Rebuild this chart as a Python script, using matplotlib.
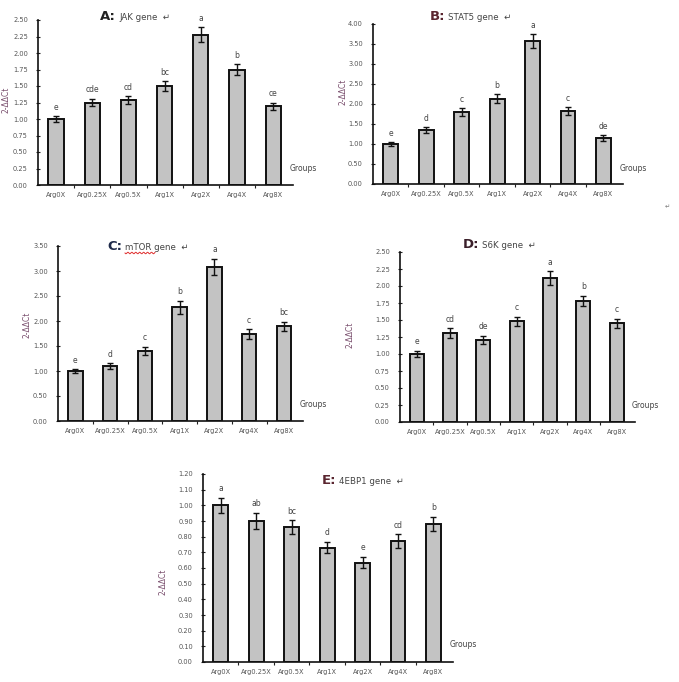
import matplotlib
matplotlib.use("Agg")
import matplotlib.pyplot as plt
import numpy as np

groups = ["Arg0X", "Arg0.25X", "Arg0.5X", "Arg1X", "Arg2X", "Arg4X", "Arg8X"]

jak_vals = [1.00, 1.25, 1.29, 1.50, 2.28, 1.75, 1.19]
jak_err = [0.05, 0.06, 0.06, 0.08, 0.11, 0.08, 0.06]
jak_letters = ["e", "cde", "cd", "bc", "a", "b", "ce"]

stat5_vals = [1.00, 1.35, 1.79, 2.13, 3.58, 1.83, 1.15]
stat5_err = [0.06, 0.08, 0.10, 0.11, 0.17, 0.10, 0.07]
stat5_letters = ["e", "d", "c", "b", "a", "c", "de"]

mtor_vals = [1.00, 1.10, 1.41, 2.28, 3.09, 1.74, 1.90]
mtor_err = [0.04, 0.06, 0.08, 0.13, 0.16, 0.10, 0.09]
mtor_letters = ["e", "d", "c", "b", "a", "c", "bc"]

s6k_vals = [1.00, 1.31, 1.21, 1.48, 2.12, 1.78, 1.45]
s6k_err = [0.05, 0.07, 0.06, 0.07, 0.10, 0.08, 0.07]
s6k_letters = ["e", "cd", "de", "c", "a", "b", "c"]

ebp1_vals = [1.00, 0.90, 0.86, 0.73, 0.635, 0.77, 0.88]
ebp1_err = [0.05, 0.05, 0.045, 0.035, 0.035, 0.045, 0.045]
ebp1_letters = ["a", "ab", "bc", "d", "e", "cd", "b"]

W, H = 679, 682
fig = plt.figure(figsize=(W / 100, H / 100), dpi=100)

def px_axes(l, r, t, b):
    return fig.add_axes([l / W, 1 - b / H, (r - l) / W, (b - t) / H])

def fx(x):
    return x / W

def fy(y):
    return 1 - y / H

tick_col = "#555555"
lab_col = "#7a4f6e"

def panel(box, vals, errs, letters, ymax, ystep, title_letter, title_rest,
          title_xy, ylab_xy, title_col="#222222"):
    ax = px_axes(*box)
    x = np.arange(len(groups))
    ax.bar(x, vals, width=0.42, color="#c3c3c3", edgecolor="#111111",
           linewidth=1.4, zorder=2)
    ax.errorbar(x, vals, yerr=errs, fmt="none", ecolor="#111111",
                elinewidth=1.0, capsize=2, capthick=1.0, zorder=3)
    off = ymax * 0.025
    for xi, v, e, l in zip(x, vals, errs, letters):
        ax.text(xi, v + e + off, l, ha="center", va="bottom", fontsize=5.5,
                color="#444444")
    ax.set_xlim(-0.5, len(groups) - 0.5 + 0.05)
    ax.set_ylim(0, ymax)
    ticks = np.arange(0, ymax + ystep / 2, ystep)
    ax.set_yticks(ticks)
    ax.set_yticklabels(["%.2f" % t for t in ticks])
    ax.set_xticks(x)
    ax.set_xticklabels(groups)
    ax.set_xticks(np.arange(0.5, len(groups) - 1, 1.0), minor=True)
    ax.tick_params(axis="x", which="major", length=0, labelsize=4.8,
                   colors=tick_col, pad=5)
    ax.tick_params(axis="x", which="minor", length=2, direction="out",
                   color="#222222", width=0.8)
    ax.tick_params(axis="y", length=2.5, direction="inout", labelsize=4.8,
                   labelcolor=tick_col, color="#222222", width=0.8, pad=6)
    for s in ["top", "right"]:
        ax.spines[s].set_visible(False)
    for s in ["left", "bottom"]:
        ax.spines[s].set_linewidth(1.2)
        ax.spines[s].set_color("#111111")
    ax.text(0.985, 0.07, "Groups", transform=ax.transAxes, ha="left",
            va="bottom", fontsize=5.5, color="#444444")
    tx, ty = title_xy
    fig.text(fx(tx), fy(ty), title_letter, ha="right", va="center",
             fontsize=9.5, fontweight="bold", color=title_col)
    fig.text(fx(tx + 3), fy(ty), title_rest + "  \u21b5", ha="left",
             va="center", fontsize=6.2, color="#444444")
    lx, ly = ylab_xy
    fig.text(fx(lx), fy(ly), "2-\u0394\u0394Ct", rotation=90, ha="center",
             va="center", fontsize=5.5, color=lab_col)
    return ax

panel((38, 293, 20, 185), jak_vals, jak_err, jak_letters, 2.50, 0.25,
      "A:", "JAK gene", (116, 17), (6, 100))
panel((373, 623, 24, 184), stat5_vals, stat5_err, stat5_letters, 4.00, 0.50,
      "B:", "STAT5 gene", (445, 17), (343, 92), title_col="#5a2630")
panel((58, 303, 246, 421), mtor_vals, mtor_err, mtor_letters, 3.50, 0.50,
      "C:", "mTOR gene", (122, 247), (27, 325), title_col="#1e2a4a")
panel((400, 635, 252, 422), s6k_vals, s6k_err, s6k_letters, 2.50, 0.25,
      "D:", "S6K gene", (479, 245), (350, 335), title_col="#3a1f2a")
panel((203, 453, 474, 662), ebp1_vals, ebp1_err, ebp1_letters, 1.20, 0.10,
      "E:", "4EBP1 gene", (336, 481), (163, 582), title_col="#5a2630")

# spell-check wavy underline under "mTOR"
wx = np.linspace(125, 155, 40)
wy = 253 + 0.8 * np.sin((wx - 125) * 1.6)
fig.add_artist(plt.Line2D(fx(wx), fy(wy), color="#e03030", linewidth=0.7))

fig.text(fx(667), fy(207), "\u21b5", fontsize=4.5, color="#777777",
         ha="center", va="center")

fig.savefig("out.png", dpi=100)
